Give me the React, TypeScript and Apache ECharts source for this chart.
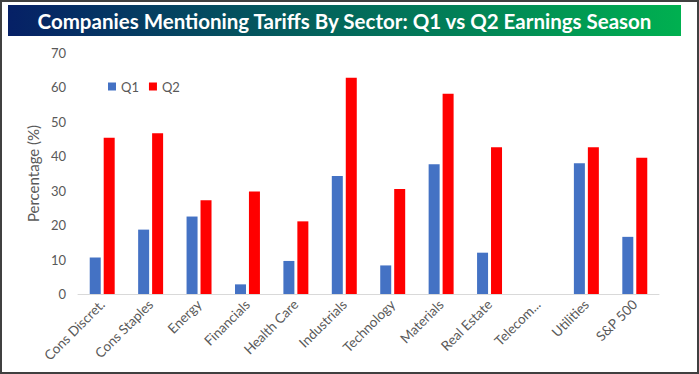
import React, { useEffect, useRef } from "react";
import * as echarts from "echarts";

const categories = [
  "Cons Discret.",
  "Cons Staples",
  "Energy",
  "Financials",
  "Health Care",
  "Industrials",
  "Technology",
  "Materials",
  "Real Estate",
  "Telecom...",
  "Utilities",
  "S&P 500",
];
const q1Values = [10.6, 18.7, 22.5, 2.8, 9.6, 34.3, 8.3, 37.7, 12.0, null, 38.0, 16.6];
const q2Values = [45.4, 46.7, 27.2, 29.8, 21.1, 62.8, 30.5, 58.2, 42.6, null, 42.6, 39.6];
const yTicks = { min: 0, max: 70, interval: 10 };
const titleText = "Companies Mentioning Tariffs By Sector: Q1 vs Q2 Earnings Season";

export default function App() {
  const ref = useRef<HTMLDivElement>(null);
  useEffect(() => {
    if (!ref.current) return;
    const chart = echarts.init(ref.current, null, { renderer: "svg" });
    const font = "Lato, 'Open Sans', sans-serif";
    chart.setOption({
      animation: false,
      backgroundColor: "#ffffff",
      textStyle: { fontFamily: font },
      graphic: [
        {
          type: "rect",
          shape: { x: 1, y: 1, width: 697, height: 372 },
          style: { fill: "none", stroke: "#404040", lineWidth: 2 },
          silent: true,
        },
        {
          type: "rect",
          shape: { x: 8, y: 5, width: 673, height: 31 },
          style: {
            fill: new echarts.graphic.LinearGradient(0, 0, 1, 0, [
              { offset: 0, color: "#062066" },
              { offset: 1, color: "#00b050" },
            ]),
          },
          silent: true,
        },
        {
          type: "text",
          x: 344.5,
          y: 20.5,
          style: {
            text: titleText,
            fill: "#ffffff",
            font: `bold 20.5px ${font}`,
            align: "center",
            verticalAlign: "middle",
          },
          silent: true,
        },
      ],
      legend: {
        left: 103,
        top: 75,
        itemWidth: 8,
        itemHeight: 8,
        itemGap: 10,
        icon: "rect",
        textStyle: { color: "#595959", fontSize: 13, fontFamily: font },
        data: ["Q1", "Q2"],
      },
      grid: { left: 78, top: 53, width: 581, height: 241, containLabel: false },
      xAxis: {
        type: "category",
        data: categories,
        axisLine: { lineStyle: { color: "#d9d9d9", width: 1 } },
        axisTick: { show: false },
        axisLabel: {
          rotate: 45,
          interval: 0,
          color: "#595959",
          fontSize: 13.5,
          fontFamily: font,
          margin: 8,
        },
      },
      yAxis: {
        type: "value",
        min: yTicks.min,
        max: yTicks.max,
        interval: yTicks.interval,
        name: "Percentage (%)",
        nameLocation: "middle",
        nameGap: 36,
        nameTextStyle: { color: "#595959", fontSize: 15, fontFamily: font },
        axisLine: { show: false },
        axisTick: { show: false },
        splitLine: { show: false },
        axisLabel: { color: "#595959", fontSize: 13, fontFamily: font, margin: 12 },
      },
      series: [
        {
          name: "Q1",
          type: "bar",
          data: q1Values,
          barWidth: 11,
          barGap: "27%",
          itemStyle: { color: "#4472c4" },
        },
        {
          name: "Q2",
          type: "bar",
          data: q2Values,
          barWidth: 11,
          itemStyle: { color: "#ff0000" },
        },
      ],
    });
    return () => chart.dispose();
  }, []);
  return (
    <div
      ref={ref}
      style={{ position: "fixed", left: 0, top: 0, width: 699, height: 374 }}
    />
  );
}
